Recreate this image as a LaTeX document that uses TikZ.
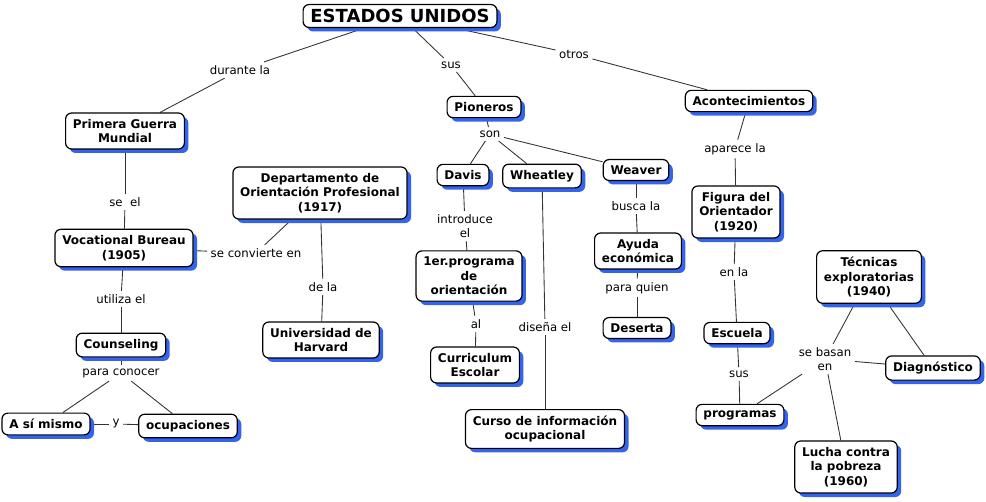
\documentclass[tikz,border=0pt]{standalone}
\usepackage{fontspec}
\setmainfont{DejaVu Sans}
\usepackage{tikz}
\usetikzlibrary{shadows,backgrounds}
\definecolor{shadowclr}{RGB}{52,100,235}
\definecolor{lineclr}{RGB}{50,50,50}
\tikzset{
  concept/.style={rectangle,draw=black,line width=0.9pt,fill=white,
                  rounded corners=4.5pt,align=center,
                  inner xsep=5.5pt,inner ysep=4.5pt,
                  font=\fontsize{9}{11}\selectfont\bfseries,
                  drop shadow={shadow xshift=3pt,shadow yshift=-3pt,
                               fill=shadowclr,opacity=1}},
  title/.style={concept,font=\fontsize{13.5}{16}\selectfont\bfseries,
                inner ysep=3.5pt},
  linkw/.style={align=center,inner sep=2.5pt,
                font=\fontsize{8.8}{10.5}\selectfont},
  edge/.style={draw=lineclr,line width=0.65pt},
}
\begin{document}
\begin{tikzpicture}[x=0.75pt,y=-0.75pt]
\useasboundingbox (0,0) rectangle (986,501);

% Root
\node[title] (us) at (400,16) {ESTADOS UNIDOS};

% Left branch
\node[concept] (pgm)  at (125,131) {Primera Guerra\\Mundial};
\node[concept] (vb)   at (124,248) {Vocational Bureau\\(1905)};
\node[concept] (dop)  at (320,193) {Departamento de\\Orientación Profesional\\(1917)};
\node[concept] (uh)   at (321,340) {Universidad de\\Harvard};
\node[concept] (cou)  at (121,345) {Counseling};
\node[concept] (asm)  at (46,424)  {A sí mismo};
\node[concept] (ocu)  at (188,426) {ocupaciones};

% Pioneers
\node[concept] (pio)  at (484,107) {Pioneros};
\node[concept] (dav)  at (463,175) {Davis};
\node[concept] (whe)  at (542,176) {Wheatley};
\node[concept] (wea)  at (636,170) {Weaver};
\node[concept] (prg1) at (469,276) {1er.programa\\de\\orientación};
\node[concept] (cur)  at (475,365) {Curriculum\\Escolar};
\node[concept] (cio)  at (545,429) {Curso de información\\ocupacional};
\node[concept] (ayu)  at (638,251) {Ayuda\\económica};
\node[concept] (des)  at (637,328) {Deserta};

% Events
\node[concept] (aco)  at (749,101) {Acontecimientos};
\node[concept] (fig)  at (736,212) {Figura del\\Orientador\\(1920)};
\node[concept] (esc)  at (737,333) {Escuela};
\node[concept] (prg)  at (740,415) {programas};
\node[concept] (tec)  at (869,277) {Técnicas\\exploratorias\\(1940)};
\node[concept] (dia)  at (933,368) {Diagnóstico};
\node[concept] (luc)  at (846,467) {Lucha contra\\la pobreza\\(1960)};

% Linking words
\node[linkw] (lDur)  at (240,70)  {durante la};
\node[linkw] (lSus)  at (451,65)  {sus};
\node[linkw] (lOtr)  at (574,54)  {otros};
\node[linkw] (lSeel) at (125,202) {se~ el};
\node[linkw] (lConv) at (256,253) {se convierte en};
\node[linkw] (lDela) at (323,287) {de la};
\node[linkw] (lUtil) at (121,299) {utiliza el};
\node[linkw] (lPara) at (121,373) {para conocer};
\node[linkw] (lY)    at (116,424) {y};
\node[linkw] (lSon)  at (490,134) {son};
\node[linkw] (lIntr) at (465,226) {introduce\\el};
\node[linkw] (lAl)   at (476,324) {al};
\node[linkw] (lDis)  at (545,327) {diseña el};
\node[linkw] (lBus)  at (636,206) {busca la};
\node[linkw] (lQui)  at (637,288) {para quien};
\node[linkw] (lApa)  at (735,149) {aparece la};
\node[linkw] (lEnla) at (734,272) {en la};
\node[linkw] (lSus2) at (739,374) {sus};
\node[linkw] (lBas)  at (825,359) {se basan\\en};

% Edges
\begin{scope}[on background layer]
\draw[edge] (us) -- (lDur);   \draw[edge] (lDur) -- (pgm);
\draw[edge] (us) -- (lSus);   \draw[edge] (lSus) -- (pio);
\draw[edge] (us) -- (lOtr);   \draw[edge] (lOtr) -- (aco);

\draw[edge] (pgm) -- (lSeel); \draw[edge] (lSeel) -- (vb);
\draw[edge] (vb) -- (lConv);  \draw[edge] (lConv) -- (dop);
\draw[edge] (dop) -- (lDela); \draw[edge] (lDela) -- (uh);
\draw[edge] (vb) -- (lUtil);  \draw[edge] (lUtil) -- (cou);
\draw[edge] (cou) -- (lPara);
\draw[edge] (lPara) -- (asm);
\draw[edge] (lPara) -- (ocu);
\draw[edge] (asm) -- (lY);    \draw[edge] (lY) -- (ocu);

\draw[edge] (pio) -- (lSon);
\draw[edge] (lSon) -- (dav);
\draw[edge] (lSon) -- (whe);
\draw[edge] (lSon) -- (wea);
\draw[edge] (dav) -- (lIntr); \draw[edge] (lIntr) -- (prg1);
\draw[edge] (prg1) -- (lAl);  \draw[edge] (lAl) -- (cur);
\draw[edge] (whe) -- (lDis);  \draw[edge] (lDis) -- (cio);
\draw[edge] (wea) -- (lBus);  \draw[edge] (lBus) -- (ayu);
\draw[edge] (ayu) -- (lQui);  \draw[edge] (lQui) -- (des);

\draw[edge] (aco) -- (lApa);  \draw[edge] (lApa) -- (fig);
\draw[edge] (fig) -- (lEnla); \draw[edge] (lEnla) -- (esc);
\draw[edge] (esc) -- (lSus2); \draw[edge] (lSus2) -- (prg);
\draw[edge] (tec) -- (lBas);
\draw[edge] (lBas) -- (dia);
\draw[edge] (lBas) -- (luc);
\draw[edge] (lBas) -- (prg);
\draw[edge] (tec) -- (dia);
\end{scope}

\end{tikzpicture}
\end{document}
